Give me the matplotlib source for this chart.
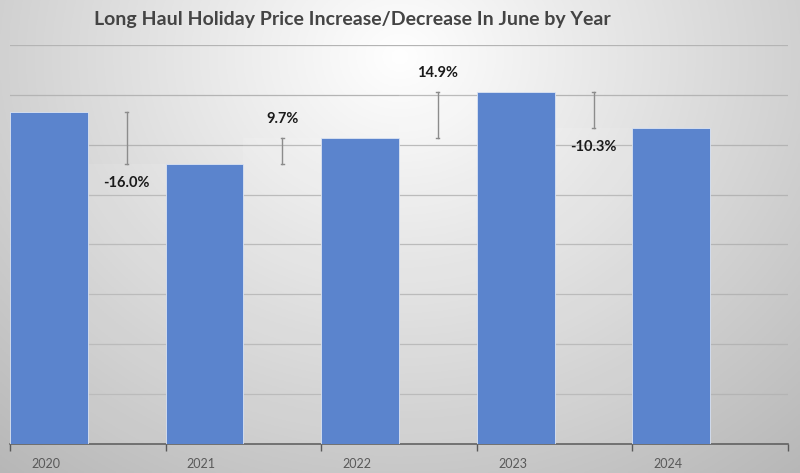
import numpy as np
import matplotlib
matplotlib.use("Agg")
import matplotlib.pyplot as plt

# chart data
years = ["2020", "2021", "2022", "2023", "2024"]
prices = [3330, 2810, 3070, 3530, 3170]
change_labels = ["-16.0%", "9.7%", "14.9%", "-10.3%"]
title = "Long Haul Holiday Price Increase/Decrease In June by Year"

plt.rcParams['font.family'] = ['Lato', 'DejaVu Sans']

fig = plt.figure(figsize=(8, 4.73), dpi=100)

# radial grey background like the Excel chart area
bg = fig.add_axes([0, 0, 1, 1], zorder=-10)
gx, gy = np.meshgrid(np.linspace(0, 1, 400), np.linspace(0, 1, 240))
r = np.sqrt(((gx - 0.5) / 0.75) ** 2 + ((gy - 0.12) / 1.1) ** 2)
shade = 1.0 - 0.27 * np.clip(r, 0, 1.2) / 1.0
bg.imshow(np.dstack([shade] * 3), extent=[0, 1, 0, 1], aspect='auto', origin='upper')
bg.set_axis_off()

ax = fig.add_axes([0.0125, 29 / 473, 0.9725, 399 / 473])
ax.patch.set_alpha(0)

x = np.arange(len(years))
ax.bar(x, prices, width=0.5, align='edge', color='#5b84cd',
       edgecolor='#dce4f2', linewidth=0.6, zorder=3)

# faint filler boxes and change markers between bars
for i in range(len(years) - 1):
    prev_v, next_v = prices[i], prices[i + 1]
    ax.bar(i + 0.5, next_v, width=0.5, align='edge', color='white',
           alpha=0.1, linewidth=0, zorder=2)
    xm = i + 0.75
    lo, hi = min(prev_v, next_v), max(prev_v, next_v)
    ax.plot([xm, xm], [lo, hi], color='#8c8c8c', lw=1.0, zorder=4)
    for yv in (lo, hi):
        ax.plot([xm - 0.01, xm + 0.01], [yv, yv], color='#8c8c8c', lw=1.0, zorder=4)
    if next_v > prev_v:
        ax.text(xm, hi + 120, change_labels[i], ha='center', va='bottom',
                fontsize=10.5, fontweight='bold', color='#1a1a1a')
    else:
        ax.text(xm, lo - 120, change_labels[i], ha='center', va='top',
                fontsize=10.5, fontweight='bold', color='#1a1a1a')

ax.set_xlim(0, len(years))
ax.set_ylim(0, 4000)
ax.set_yticks(np.arange(500, 4001, 500))
ax.yaxis.grid(True, color='#b4b4b4', lw=0.9, zorder=0)
ax.tick_params(axis='y', left=False, labelleft=False)
ax.set_xticks(np.arange(len(years) + 1))
ax.set_xticklabels([])
ax.set_xticks(x + 0.23, minor=True)
ax.set_xticklabels(years, minor=True)
ax.tick_params(axis='x', which='major', direction='out', length=5,
               color='#595959', width=1)
ax.tick_params(axis='x', which='minor', length=0, pad=10,
               labelsize=9, labelcolor='#595959')
for s in ['top', 'right', 'left']:
    ax.spines[s].set_visible(False)
ax.spines['bottom'].set_color('#595959')
ax.spines['bottom'].set_linewidth(1.1)

fig.text(0.44, 1 - 20 / 473, title, ha='center', va='center',
         fontsize=14, fontweight='bold', color='#444444')

fig.savefig("out.png", dpi=100)
